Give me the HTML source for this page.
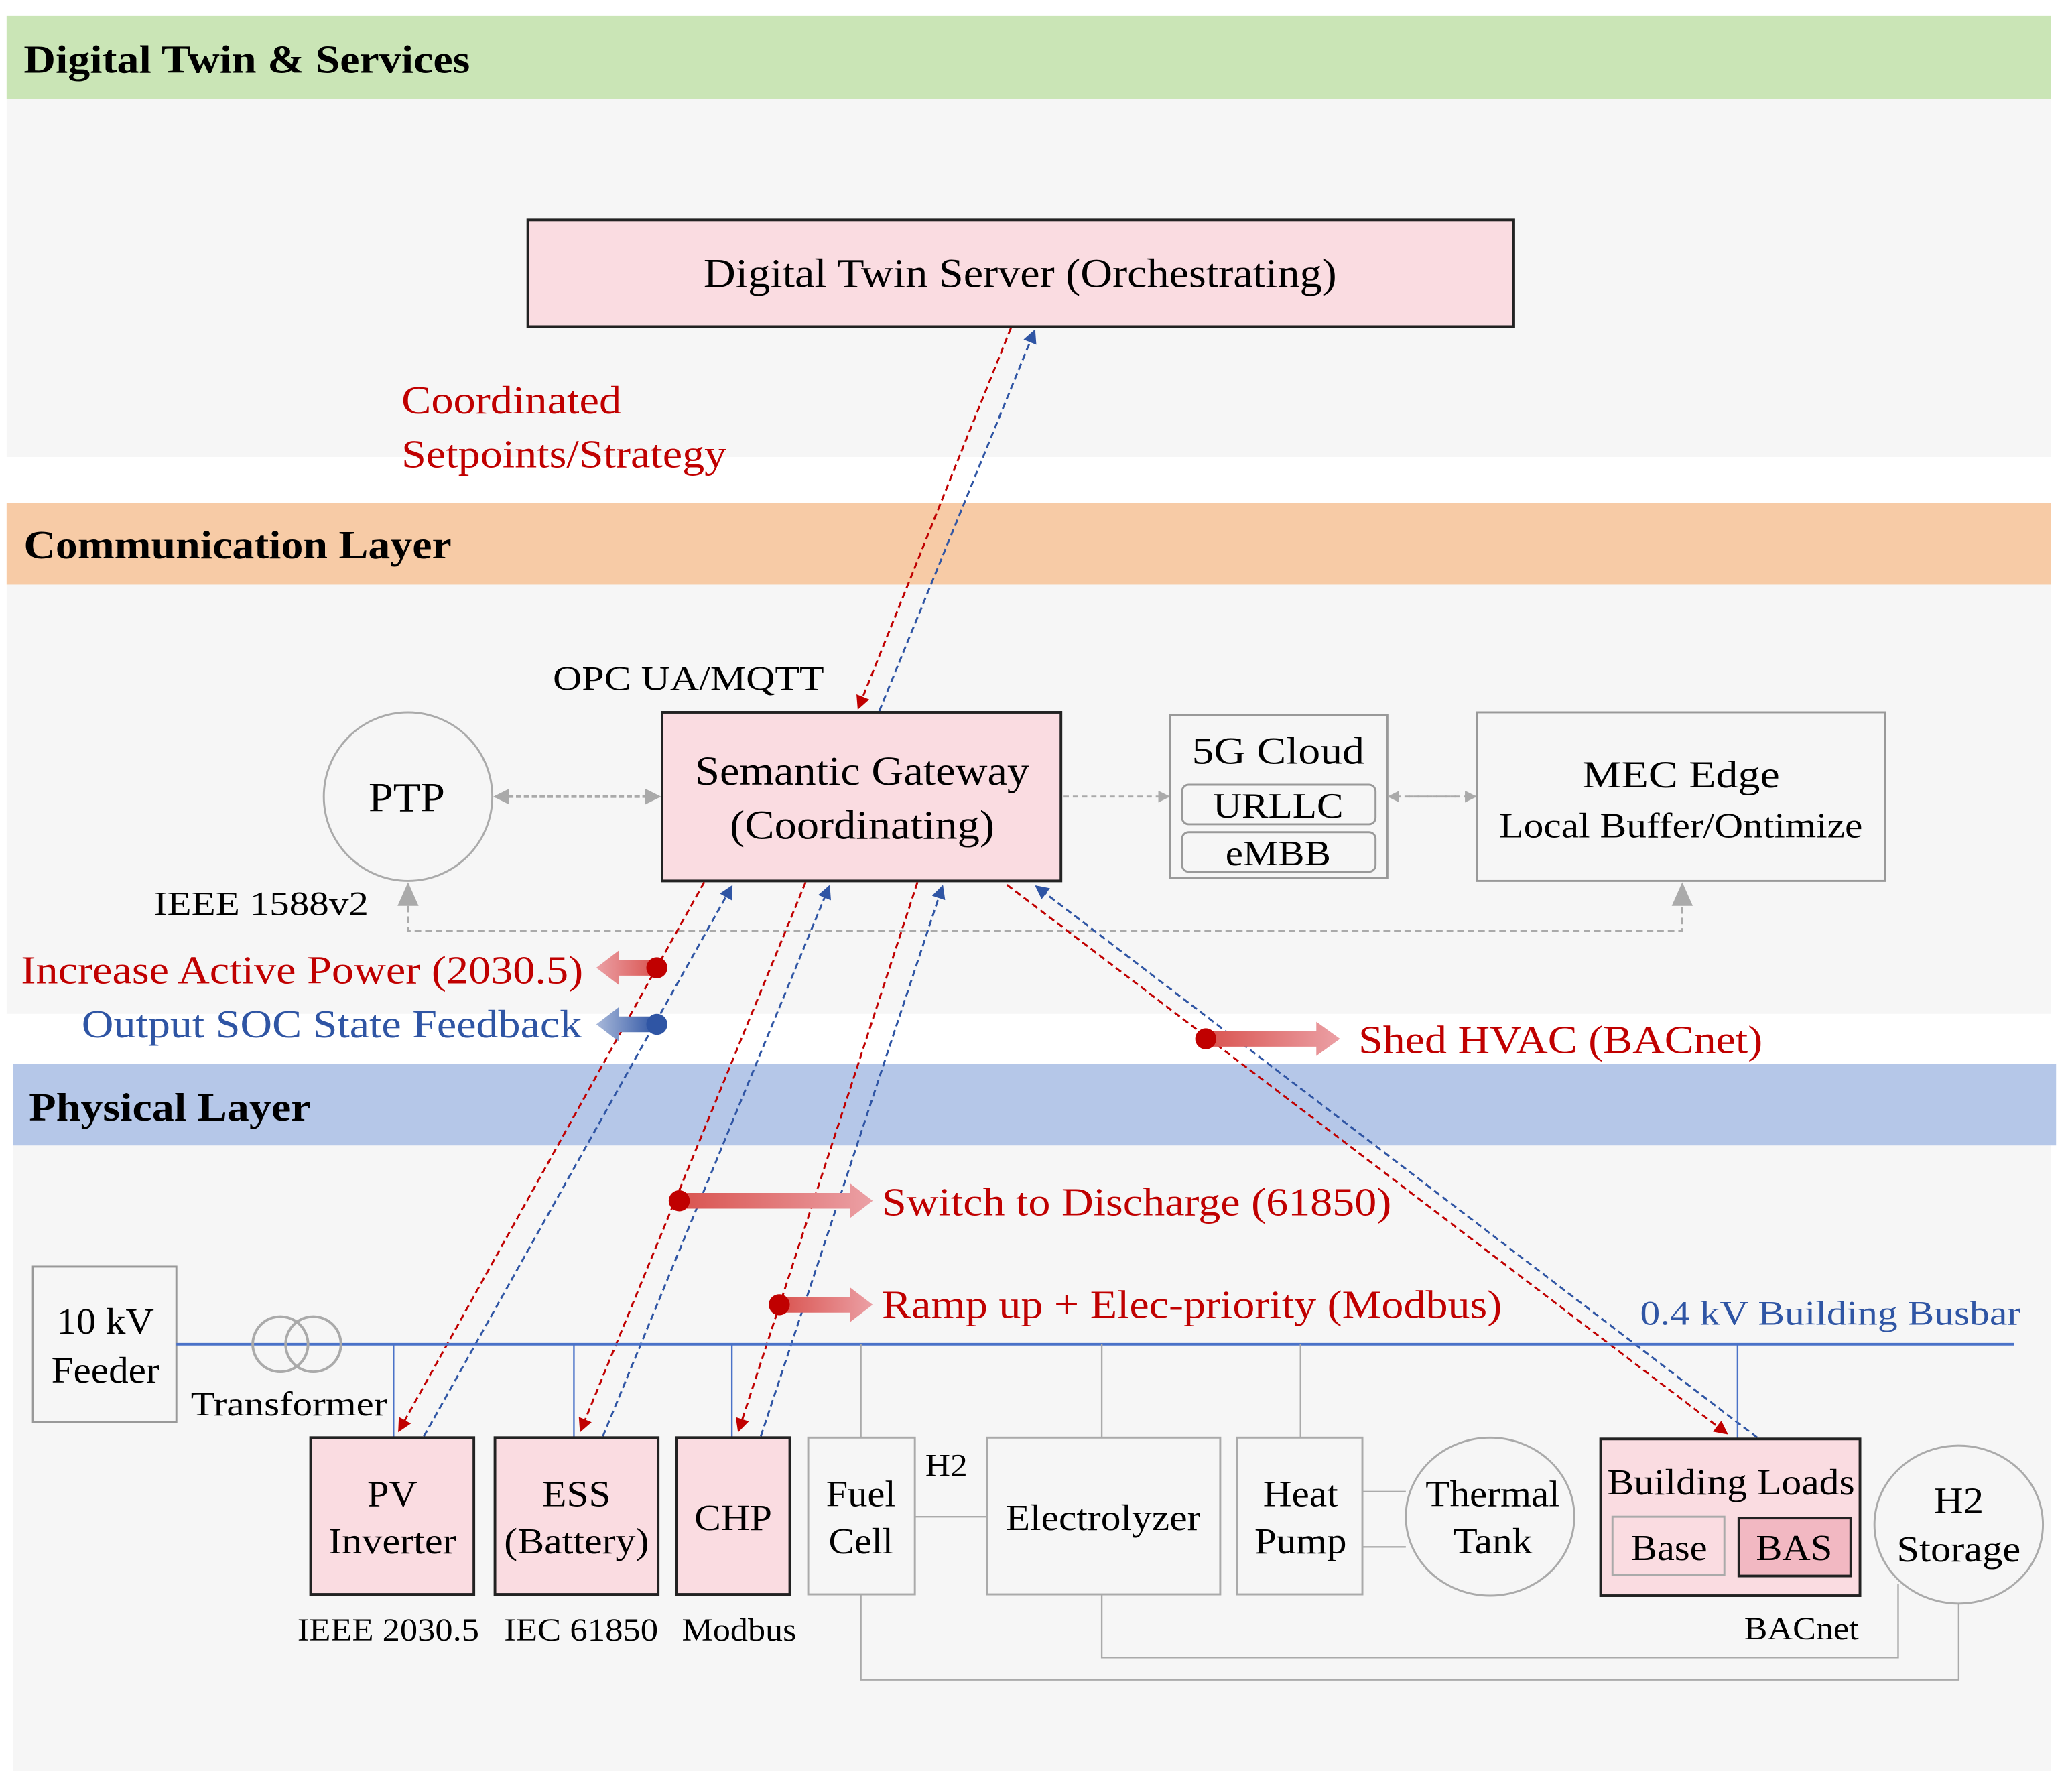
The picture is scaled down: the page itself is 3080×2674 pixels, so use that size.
<!DOCTYPE html>
<html><head><meta charset="utf-8"><style>html,body{margin:0;padding:0;background:#fff}svg{display:block}</style></head>
<body>
<svg width="3080" height="2674" viewBox="0 0 1568 1361" xmlns="http://www.w3.org/2000/svg" font-family="'Liberation Serif', serif">
<defs>
<marker id="ar" viewBox="0 0 10 10" refX="9" refY="5" markerWidth="8" markerHeight="7" orient="auto"><path d="M0,0L10,5L0,10z" fill="#c00000"/></marker>
<marker id="ab" viewBox="0 0 10 10" refX="9" refY="5" markerWidth="8" markerHeight="7" orient="auto"><path d="M0,0L10,5L0,10z" fill="#2f55a4"/></marker>
<marker id="ag" viewBox="0 0 10 10" refX="9" refY="5" markerWidth="6" markerHeight="6" orient="auto"><path d="M0,0L10,5L0,10z" fill="#aaa"/></marker>
<linearGradient id="gr" x1="0" x2="1"><stop offset="0" stop-color="#d9534f"/><stop offset="1" stop-color="#eba0a5"/></linearGradient>
<linearGradient id="grl" x1="1" x2="0"><stop offset="0" stop-color="#d9534f"/><stop offset="1" stop-color="#eba0a5"/></linearGradient>
<linearGradient id="gbl" x1="1" x2="0"><stop offset="0" stop-color="#2f55a4"/><stop offset="1" stop-color="#a9b9da"/></linearGradient>
</defs>
<rect width="1568" height="1361" fill="#fff"/>
<rect x="5" y="75" width="1553" height="272" fill="#f6f6f6"/>
<rect x="5" y="12" width="1553" height="63" fill="#cae5b6"/>
<text x="18" y="55" font-size="30" font-weight="bold" textLength="339" lengthAdjust="spacingAndGlyphs">Digital Twin &amp; Services</text>
<rect x="5" y="444" width="1553" height="326" fill="#f6f6f6"/>
<rect x="5" y="382" width="1553" height="62" fill="#f7cba6"/>
<text x="18" y="424" font-size="30" font-weight="bold" textLength="325" lengthAdjust="spacingAndGlyphs">Communication Layer</text>
<rect x="10" y="870" width="1548" height="475" fill="#f6f6f6"/>
<rect x="10" y="808" width="1552" height="62" fill="#b5c7e8"/>
<text x="22" y="851" font-size="30" font-weight="bold" textLength="214" lengthAdjust="spacingAndGlyphs">Physical Layer</text>

<rect x="401" y="167" width="749" height="81" fill="#fadce1" stroke="#222" stroke-width="2"/>
<text x="775" y="218" font-size="31" text-anchor="middle" textLength="481" lengthAdjust="spacingAndGlyphs">Digital Twin Server (Orchestrating)</text>
<text x="305" y="314" font-size="30" fill="#c00000" textLength="167" lengthAdjust="spacingAndGlyphs">Coordinated</text>
<text x="305" y="355" font-size="30" fill="#c00000" textLength="247" lengthAdjust="spacingAndGlyphs">Setpoints/Strategy</text>
<line x1="768" y1="249" x2="652" y2="538" stroke="#c00000" stroke-width="1.5" stroke-dasharray="5,3" marker-end="url(#ar)"/>
<line x1="668" y1="540" x2="786" y2="251" stroke="#2f55a4" stroke-width="1.5" stroke-dasharray="5,3" marker-end="url(#ab)"/>

<text x="420" y="524" font-size="26" textLength="206" lengthAdjust="spacingAndGlyphs">OPC UA/MQTT</text>
<rect x="503" y="541" width="303" height="128" fill="#fadce1" stroke="#222" stroke-width="2"/>
<text x="655" y="596" font-size="31" text-anchor="middle" textLength="254" lengthAdjust="spacingAndGlyphs">Semantic Gateway</text>
<text x="655" y="637" font-size="31" text-anchor="middle" textLength="201" lengthAdjust="spacingAndGlyphs">(Coordinating)</text>
<circle cx="310" cy="605" r="64" fill="#f6f6f6" stroke="#aaa" stroke-width="1.5"/>
<text x="309" y="616" font-size="31" text-anchor="middle" textLength="58" lengthAdjust="spacingAndGlyphs">PTP</text>
<line x1="392" y1="605" x2="501" y2="605" stroke="#aaa" stroke-width="2" stroke-dasharray="4,2" marker-end="url(#ag)"/>
<line x1="486" y1="605" x2="376" y2="605" stroke="#aaa" stroke-width="2" stroke-dasharray="4,2" marker-end="url(#ag)"/>
<text x="117" y="695" font-size="26" textLength="163" lengthAdjust="spacingAndGlyphs">IEEE 1588v2</text>
<polyline points="310,672 310,707 1278,707 1278,672" fill="none" stroke="#aaa" stroke-width="1.5" stroke-dasharray="5,3"/>
<path d="M302,688L310,670L318,688z" fill="#aaa"/>
<path d="M1270,688L1278,670L1286,688z" fill="#aaa"/>
<line x1="808" y1="605" x2="888" y2="605" stroke="#aaa" stroke-width="1.5" stroke-dasharray="4,3" marker-end="url(#ag)"/>
<rect x="889" y="543" width="165" height="124" fill="#f6f6f6" stroke="#999" stroke-width="1.5"/>
<text x="971" y="580" font-size="29" text-anchor="middle" textLength="131" lengthAdjust="spacingAndGlyphs">5G Cloud</text>
<rect x="898" y="596" width="147" height="30" rx="5" fill="#f6f6f6" stroke="#999" stroke-width="1.5"/>
<text x="971" y="621" font-size="27" text-anchor="middle" textLength="99" lengthAdjust="spacingAndGlyphs">URLLC</text>
<rect x="898" y="632" width="147" height="30" rx="5" fill="#f6f6f6" stroke="#999" stroke-width="1.5"/>
<text x="971" y="657" font-size="27" text-anchor="middle" textLength="80" lengthAdjust="spacingAndGlyphs">eMBB</text>
<line x1="1070" y1="605" x2="1121" y2="605" stroke="#aaa" stroke-width="1.5" stroke-dasharray="4,3" marker-end="url(#ag)"/>
<line x1="1106" y1="605" x2="1055" y2="605" stroke="#aaa" stroke-width="1.5" stroke-dasharray="4,3" marker-end="url(#ag)"/>
<rect x="1122" y="541" width="310" height="128" fill="#f6f6f6" stroke="#999" stroke-width="1.5"/>
<text x="1277" y="598" font-size="29" text-anchor="middle" textLength="150" lengthAdjust="spacingAndGlyphs">MEC Edge</text>
<text x="1277" y="636" font-size="27" text-anchor="middle" textLength="276" lengthAdjust="spacingAndGlyphs">Local Buffer/Ontimize</text>

<g stroke-width="1.5" stroke-dasharray="5,3" fill="none">
<line x1="535" y1="670" x2="303" y2="1087" stroke="#c00000" marker-end="url(#ar)"/>
<line x1="322" y1="1091" x2="556" y2="673" stroke="#2f55a4" marker-end="url(#ab)"/>
<line x1="612" y1="670" x2="441" y2="1087" stroke="#c00000" marker-end="url(#ar)"/>
<line x1="458" y1="1091" x2="630" y2="673" stroke="#2f55a4" marker-end="url(#ab)"/>
<line x1="697" y1="670" x2="561" y2="1087" stroke="#c00000" marker-end="url(#ar)"/>
<line x1="578" y1="1091" x2="716" y2="673" stroke="#2f55a4" marker-end="url(#ab)"/>
<line x1="765" y1="672" x2="1312" y2="1089" stroke="#c00000" marker-end="url(#ar)"/>
<line x1="1335" y1="1092" x2="787" y2="673" stroke="#2f55a4" marker-end="url(#ab)"/>
</g>

<path d="M499,729L470,729L470,722L453,735L470,748L470,741L499,741z" fill="url(#grl)"/>
<circle cx="499" cy="735" r="8" fill="#c00000"/>
<text x="16" y="747" font-size="30" fill="#c00000" textLength="427" lengthAdjust="spacingAndGlyphs">Increase Active Power (2030.5)</text>
<path d="M499,772L470,772L470,765L453,778L470,791L470,784L499,784z" fill="url(#gbl)"/>
<circle cx="499" cy="778" r="8" fill="#2f55a4"/>
<text x="62" y="788" font-size="30" fill="#2f55a4" textLength="380" lengthAdjust="spacingAndGlyphs">Output SOC State Feedback</text>
<path d="M916,783L1000,783L1000,776L1018,789L1000,802L1000,795L916,795z" fill="url(#gr)"/>
<circle cx="916" cy="789" r="8" fill="#c00000"/>
<text x="1032" y="800" font-size="30" fill="#c00000" textLength="307" lengthAdjust="spacingAndGlyphs">Shed HVAC (BACnet)</text>
<path d="M516,906L646,906L646,899L663,912L646,925L646,918L516,918z" fill="url(#gr)"/>
<circle cx="516" cy="912" r="8" fill="#c00000"/>
<text x="670" y="923" font-size="30" fill="#c00000" textLength="387" lengthAdjust="spacingAndGlyphs">Switch to Discharge (61850)</text>
<path d="M592,985L646,985L646,978L663,991L646,1004L646,997L592,997z" fill="url(#gr)"/>
<circle cx="592" cy="991" r="8" fill="#c00000"/>
<text x="670" y="1001" font-size="30" fill="#c00000" textLength="471" lengthAdjust="spacingAndGlyphs">Ramp up + Elec-priority (Modbus)</text>

<rect x="25" y="962" width="109" height="118" fill="#f6f6f6" stroke="#999" stroke-width="1.5"/>
<text x="80" y="1013" font-size="28" text-anchor="middle" textLength="74" lengthAdjust="spacingAndGlyphs">10 kV</text>
<text x="80" y="1050" font-size="28" text-anchor="middle" textLength="82" lengthAdjust="spacingAndGlyphs">Feeder</text>
<line x1="134" y1="1021" x2="1530" y2="1021" stroke="#4a72c8" stroke-width="2"/>
<text x="1246" y="1006" font-size="26" fill="#2f55a4" textLength="289" lengthAdjust="spacingAndGlyphs">0.4 kV Building Busbar</text>
<circle cx="213" cy="1021" r="21" fill="none" stroke="#aaa" stroke-width="2"/>
<circle cx="238" cy="1021" r="21" fill="none" stroke="#aaa" stroke-width="2"/>
<text x="145" y="1075" font-size="26" textLength="149" lengthAdjust="spacingAndGlyphs">Transformer</text>
<g stroke="#4a72c8" stroke-width="1.2">
<line x1="299" y1="1021" x2="299" y2="1092"/><line x1="436" y1="1021" x2="436" y2="1092"/><line x1="556" y1="1021" x2="556" y2="1092"/><line x1="1320" y1="1021" x2="1320" y2="1093"/>
</g>
<g stroke="#aaa" stroke-width="1.2" fill="none">
<line x1="654" y1="1021" x2="654" y2="1092"/><line x1="837" y1="1021" x2="837" y2="1092"/><line x1="988" y1="1021" x2="988" y2="1092"/>
<line x1="695" y1="1152" x2="750" y2="1152"/>
<line x1="1035" y1="1133" x2="1068" y2="1133"/><line x1="1035" y1="1175" x2="1068" y2="1175"/>
<polyline points="837,1211 837,1259 1442,1259 1442,1203"/>
<polyline points="654,1211 654,1276 1488,1276 1488,1218"/>
</g>
<g stroke="#222" stroke-width="2" fill="#fadce1">
<rect x="236" y="1092" width="124" height="119"/>
<rect x="376" y="1092" width="124" height="119"/>
<rect x="514" y="1092" width="86" height="119"/>
<rect x="1216" y="1093" width="197" height="119"/>
</g>
<g stroke="#aaa" stroke-width="1.5" fill="#f6f6f6">
<rect x="614" y="1092" width="81" height="119"/>
<rect x="750" y="1092" width="177" height="119"/>
<rect x="940" y="1092" width="95" height="119"/>
<ellipse cx="1132" cy="1152" rx="64" ry="60"/>
<ellipse cx="1488" cy="1158" rx="64" ry="60"/>
<rect x="1225" y="1152" width="85" height="44" fill="#fadce1"/>
</g>
<rect x="1321" y="1153" width="85" height="44" fill="#f2b8c2" stroke="#222" stroke-width="2"/>
<g font-size="28" text-anchor="middle" lengthAdjust="spacingAndGlyphs">
<text x="298" y="1144" textLength="38" lengthAdjust="spacingAndGlyphs">PV</text><text x="298" y="1180" textLength="97" lengthAdjust="spacingAndGlyphs">Inverter</text>
<text x="438" y="1144" textLength="52" lengthAdjust="spacingAndGlyphs">ESS</text><text x="438" y="1180" textLength="110" lengthAdjust="spacingAndGlyphs">(Battery)</text>
<text x="557" y="1162" textLength="59" lengthAdjust="spacingAndGlyphs">CHP</text>
<text x="654" y="1144" textLength="53" lengthAdjust="spacingAndGlyphs">Fuel</text><text x="654" y="1180" textLength="49" lengthAdjust="spacingAndGlyphs">Cell</text>
<text x="838" y="1162" textLength="148" lengthAdjust="spacingAndGlyphs">Electrolyzer</text>
<text x="988" y="1144" textLength="57" lengthAdjust="spacingAndGlyphs">Heat</text><text x="988" y="1180" textLength="70" lengthAdjust="spacingAndGlyphs">Pump</text>
<text x="1134" y="1144" textLength="102" lengthAdjust="spacingAndGlyphs">Thermal</text><text x="1134" y="1180" textLength="60" lengthAdjust="spacingAndGlyphs">Tank</text>
<text x="1315" y="1135" textLength="188" lengthAdjust="spacingAndGlyphs">Building Loads</text>
<text x="1268" y="1185" textLength="58" lengthAdjust="spacingAndGlyphs">Base</text><text x="1363" y="1185" textLength="58" lengthAdjust="spacingAndGlyphs">BAS</text>
<text x="1488" y="1149" textLength="38" lengthAdjust="spacingAndGlyphs">H2</text><text x="1488" y="1186" textLength="94" lengthAdjust="spacingAndGlyphs">Storage</text>
</g>
<text x="703" y="1121" font-size="24" textLength="32" lengthAdjust="spacingAndGlyphs">H2</text>
<g font-size="24">
<text x="226" y="1246" textLength="138" lengthAdjust="spacingAndGlyphs">IEEE 2030.5</text>
<text x="383" y="1246" textLength="117" lengthAdjust="spacingAndGlyphs">IEC 61850</text>
<text x="518" y="1246" textLength="87" lengthAdjust="spacingAndGlyphs">Modbus</text>
<text x="1325" y="1245" textLength="87" lengthAdjust="spacingAndGlyphs">BACnet</text>
</g>
</svg>
</body></html>
